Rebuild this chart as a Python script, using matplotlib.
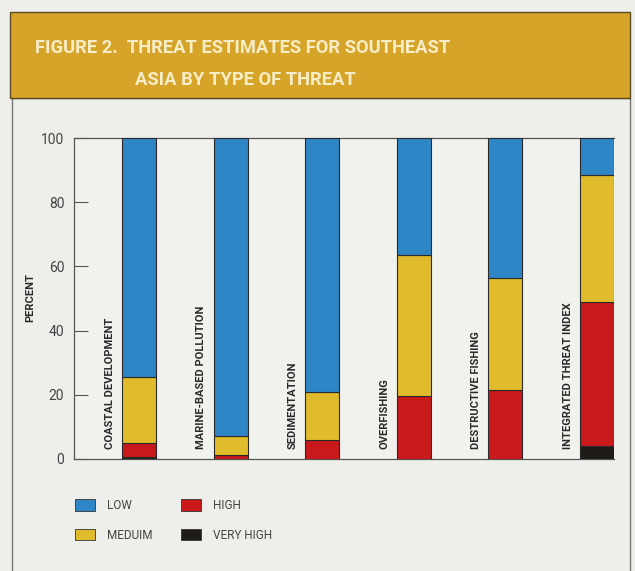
import numpy as np
import matplotlib.pyplot as plt
from matplotlib.patches import Rectangle, Patch

categories = ["COASTAL DEVELOPMENT", "MARINE-BASED POLLUTION", "SEDIMENTATION",
              "OVERFISHING", "DESTRUCTIVE FISHING", "INTEGRATED THREAT INDEX"]
very_high = [0.5, 0.0, 0.0, 0.0, 0.0, 4.0]
high = [4.5, 1.3, 6.0, 19.5, 21.4, 45.0]
medium = [20.5, 6.0, 15.0, 44.0, 35.0, 39.5]
low = [74.5, 92.7, 79.0, 36.5, 43.6, 11.5]

level_names = ["LOW", "MEDUIM", "HIGH", "VERY HIGH"]
level_colors = ["#2f86c6", "#e0bb2c", "#c9191b", "#1e1b19"]

bg = "#eeeeeb"
gold = "#d6a428"
cond = ["Roboto", "DejaVu Sans"]

fig = plt.figure(figsize=(6.35, 5.71), dpi=100)
fig.patch.set_facecolor(bg)

W, H = 635, 571
def fx(px):
    return px / W
def fy(py):
    return 1 - py / H

# outer box and gold header
fig.patches.append(Rectangle((fx(12), fy(575)), fx(630) - fx(12), fy(98) - fy(575),
                             transform=fig.transFigure, facecolor="none",
                             edgecolor="#777777", lw=1.0))
fig.patches.append(Rectangle((fx(10), fy(98)), fx(630) - fx(10), fy(12) - fy(98),
                             transform=fig.transFigure, facecolor=gold,
                             edgecolor="#5a4a20", lw=1.0))
fig.text(fx(35), fy(48), "FIGURE 2.  THREAT ESTIMATES FOR SOUTHEAST",
         family=cond, weight="bold", fontsize=13.2, color="#f6ecc6", va="center", ha="left")
fig.text(fx(135), fy(80), "ASIA BY TYPE OF THREAT",
         family=cond, weight="bold", fontsize=13.2, color="#f6ecc6", va="center", ha="left")

ax = fig.add_axes([fx(74), fy(459), fx(614) - fx(74), fy(138) - fy(459)])
ax.set_facecolor("#f1f1ee")

x = np.arange(len(categories))
width = 0.37
bottom = np.zeros(len(categories))
stack = [(very_high, 3), (high, 2), (medium, 1), (low, 0)]
for vals, k in stack:
    ax.bar(x, vals, width, bottom=bottom, color=level_colors[k],
           edgecolor="#2a2a2a", linewidth=0.8, zorder=3)
    bottom = bottom + np.array(vals)

for i, name in enumerate(categories):
    ax.text(i - 0.32, 3.0, name, rotation=90, ha="center", va="bottom",
            family=cond, weight="bold", fontsize=8, color="#2a2a2a")

ax.set_xlim(-0.71, 5.186)
ax.set_ylim(0, 100)
ax.set_yticks([0, 20, 40, 60, 80, 100])
ax.set_xticks([])
ax.tick_params(axis="y", direction="in", length=10, width=0.8, color="#555555",
               labelsize=10, labelcolor="#444444", pad=7)
for lab in ax.get_yticklabels():
    lab.set_family(cond)
for s in ["left", "bottom", "top"]:
    ax.spines[s].set_color("#555555")
    ax.spines[s].set_linewidth(0.9)
ax.spines["right"].set_visible(False)

fig.text(fx(30), fy(297), "PERCENT", rotation=90, ha="center", va="center",
         family=cond, weight="bold", fontsize=8, color="#2a2a2a")

handles = [Patch(facecolor=c, edgecolor="#333333", lw=0.6) for c in level_colors]
fig.legend(handles, level_names,
           loc="upper left", bbox_to_anchor=(fx(75), fy(499)), ncol=2,
           frameon=False, borderpad=0, borderaxespad=0,
           handlelength=1.7, handleheight=1.1, handletextpad=1.0,
           columnspacing=2.4, labelspacing=1.4,
           prop={"family": cond, "size": 8.5}, labelcolor="#444444")

fig.savefig("out.png", dpi=100, facecolor=bg)
